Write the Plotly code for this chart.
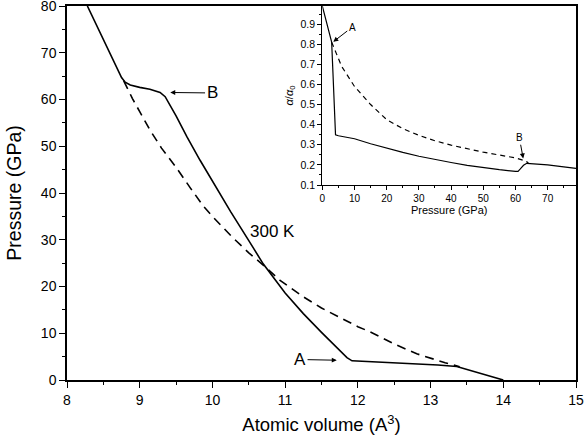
import plotly.graph_objects as go

# ---- Main panel data: pressure vs atomic volume ----
vol_solid = [8.28, 8.4, 8.5, 8.6, 8.7, 8.75, 8.8, 8.87, 9.0, 9.14, 9.28, 9.35,
             9.5, 9.65, 9.83, 10.0, 10.25, 10.5, 10.7, 11.0, 11.25, 11.5, 11.7,
             11.85, 11.92, 12.2, 12.5, 12.86, 13.1, 13.36, 13.5, 13.75, 14.0]
p_solid = [80, 76.0, 72.7, 69.4, 66.2, 64.7, 63.7, 63.1, 62.6, 62.2, 61.5, 60.6,
           56.5, 52.0, 47.0, 42.5, 36.0, 29.8, 24.8, 18.6, 14.2, 10.2, 7.1,
           4.8, 4.1, 3.9, 3.7, 3.4, 3.2, 2.9, 2.3, 1.2, 0]

vol_dash = [8.78, 8.9, 9.0, 9.14, 9.3, 9.5, 9.7, 9.875, 10.0, 10.27, 10.5, 10.72,
            10.93, 11.25, 11.5, 11.71, 12.0, 12.17, 12.5, 12.81, 13.0, 13.2, 13.4]
p_dash = [64.0, 60.2, 57.4, 53.5, 49.6, 45.5, 41.0, 37.2, 35.0, 30.6, 27.2, 24.3,
          21.3, 17.8, 15.4, 13.7, 11.4, 10.3, 7.7, 5.6, 4.6, 3.7, 2.85]

# ---- Inset data: alpha/alpha0 vs pressure ----
ins_p_solid = [0, 1.5, 2.9, 3.3, 3.7, 4.1, 5, 8, 10, 15, 20, 25, 30, 35, 40, 45,
               50, 55, 60, 60.8, 61.5, 62.5, 63.5, 65, 70, 75, 78.8]
ins_a_solid = [0.99, 0.9, 0.81, 0.66, 0.48, 0.35, 0.345, 0.338, 0.33, 0.305, 0.283,
               0.262, 0.243, 0.226, 0.212, 0.198, 0.186, 0.176, 0.168, 0.168, 0.18,
               0.198, 0.208, 0.207, 0.2, 0.19, 0.183]

ins_p_dash = [2.9, 6, 10, 15, 20, 25, 30, 35, 40, 45, 50, 55, 60, 63, 64]
ins_a_dash = [0.81, 0.69, 0.59, 0.50, 0.425, 0.38, 0.347, 0.32, 0.298, 0.279,
              0.263, 0.249, 0.235, 0.22, 0.21]

FONT = "Liberation Sans, Arial, sans-serif"

fig = go.Figure()
fig.add_trace(go.Scatter(x=vol_solid, y=p_solid, mode="lines",
                         line=dict(color="black", width=1.6), showlegend=False))
fig.add_trace(go.Scatter(x=vol_dash, y=p_dash, mode="lines",
                         line=dict(color="black", width=1.6, dash="9px,6px"),
                         showlegend=False))
fig.add_trace(go.Scatter(x=ins_p_solid, y=ins_a_solid, mode="lines", xaxis="x2", yaxis="y2",
                         line=dict(color="black", width=1.2), showlegend=False))
fig.add_trace(go.Scatter(x=ins_p_dash, y=ins_a_dash, mode="lines", xaxis="x2", yaxis="y2",
                         line=dict(color="black", width=1.2, dash="5px,4px"),
                         showlegend=False))

axis_common = dict(showgrid=False, zeroline=False, linecolor="black", automargin=False,
                   ticks="outside", tickcolor="black", color="black",
                   ticklabeloverflow="allow")

fig.update_layout(
    width=584, height=446,
    margin=dict(l=67, r=8, t=6, b=66, autoexpand=False),
    plot_bgcolor="white", paper_bgcolor="white",
    font=dict(family=FONT, color="black"),
    xaxis=dict(range=[8, 15], dtick=1, tick0=8, showline=True, linewidth=1.5, mirror=True,
               ticklen=6, tickwidth=1.2, tickfont=dict(size=14),
               minor=dict(dtick=0.5, ticklen=3, tickcolor="black", ticks="outside"),
               title=dict(text="Atomic volume (A<sup>3</sup>)", font=dict(size=18.5), standoff=12),
               **axis_common),
    yaxis=dict(range=[0, 80], dtick=10, tick0=0, showline=True, linewidth=1.5, mirror=True,
               ticklen=6, tickwidth=1.2, tickfont=dict(size=14),
               minor=dict(dtick=5, ticklen=3, tickcolor="black", ticks="outside"),
               title=dict(text="Pressure (GPa)", font=dict(size=19.5), standoff=14),
               **axis_common),
    xaxis2=dict(domain=[0.5016, 1.0], anchor="y2", range=[0, 78.8], dtick=10, tick0=0,
                showline=True, linewidth=1.2, ticklen=4, tickwidth=1,
                tickfont=dict(size=10),
                minor=dict(dtick=5, ticklen=2, tickcolor="black", ticks="outside"),
                **axis_common),
    yaxis2=dict(domain=[0.5214, 1.0], anchor="x2", range=[0.1, 0.99], dtick=0.1, tick0=0.1,
                showline=True, linewidth=1.2, ticklen=4, tickwidth=1,
                tickfont=dict(size=10.5), tickformat=".1f",
                minor=dict(dtick=0.05, ticklen=2, tickcolor="black", ticks="outside"),
                title=dict(text="<i>α</i>/<i>α</i><sub>0</sub>", font=dict(size=11), standoff=4),
                **axis_common),
)

# inset x-axis title, placed just under its tick labels
fig.add_annotation(text="Pressure (GPa)", xref="x2 domain", yref="y2 domain",
                   x=0.5, y=-0.138, yanchor="middle", showarrow=False,
                   font=dict(size=11, family=FONT, color="black"))

ann_main = dict(font=dict(size=17, family=FONT, color="black"), showarrow=True,
                arrowhead=2, arrowsize=1, arrowwidth=1, arrowcolor="black",
                xref="x", yref="y", axref="x", ayref="y")
fig.add_annotation(text="B", x=9.42, y=61.5, ax=9.995, ay=61.4, **ann_main)
fig.add_annotation(text="A", x=11.71, y=4.23, ax=11.205, ay=4.38, **ann_main)
fig.add_annotation(text="300 K", x=10.83, y=31.8, showarrow=False, xref="x", yref="y",
                   font=dict(size=17, family=FONT, color="black"))

ann_ins = dict(font=dict(size=10, family=FONT, color="black"), showarrow=True,
               arrowhead=2, arrowsize=1, arrowwidth=1, arrowcolor="black",
               xref="x2", yref="y2", axref="x2", ayref="y2")
fig.add_annotation(text="A", x=3.4, y=0.812, ax=9.3, ay=0.885, **ann_ins)
fig.add_annotation(text="B", x=62.4, y=0.232, ax=61.2, ay=0.335, **ann_ins)

fig.write_html("out.html", config={"displayModeBar": False},
               post_script="document.body.style.margin='0';document.body.style.padding='0';")
